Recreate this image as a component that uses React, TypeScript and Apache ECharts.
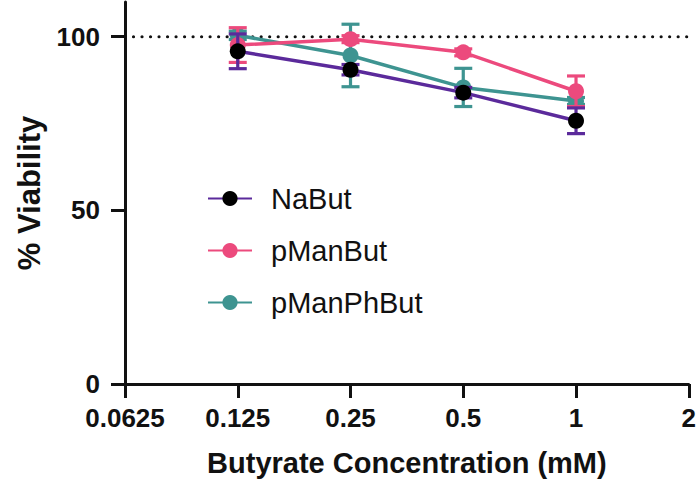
import React, { useEffect, useRef } from "react";
import * as echarts from "echarts";

const concentrations = [0.125, 0.25, 0.5, 1];
const xTickLabels = ["0.0625", "0.125", "0.25", "0.5", "1", "2"];
const yTickValues = [0, 50, 100];

const naButMean = [95.8, 90.5, 83.9, 75.8];
const naButErr = [5.0, 1.5, 1.5, 3.7];
const pManButMean = [97.6, 99.3, 95.5, 84.3];
const pManButErr = [5.0, 1.0, 1.0, 4.4];
const pManPhButMean = [100.4, 94.6, 85.4, 81.5];
const pManPhButErr = [1.2, 9.0, 5.5, 1.0];

const seriesNames = ["NaBut", "pManBut", "pManPhBut"];

const FONT = 'Arial, "Liberation Sans", Helvetica, sans-serif';

function errData(means: number[], errs: number[]) {
  return concentrations.map((c, i) => [c, means[i] - errs[i], means[i] + errs[i]]);
}

function errSeries(name: string, means: number[], errs: number[], color: string, z: number) {
  return {
    type: "custom",
    name: name + "-err",
    z,
    silent: true,
    data: errData(means, errs),
    renderItem: (params: any, api: any) => {
      const x = api.value(0);
      const lo = api.coord([x, api.value(1)]);
      const hi = api.coord([x, api.value(2)]);
      const w = 9;
      const style = { stroke: color, lineWidth: 3.2, fill: "none" };
      return {
        type: "group",
        children: [
          { type: "line", shape: { x1: lo[0], y1: lo[1], x2: hi[0], y2: hi[1] }, style },
          { type: "line", shape: { x1: lo[0] - w, y1: lo[1], x2: lo[0] + w, y2: lo[1] }, style },
          { type: "line", shape: { x1: hi[0] - w, y1: hi[1], x2: hi[0] + w, y2: hi[1] }, style },
        ],
      };
    },
  };
}

function lineSeries(name: string, means: number[], lineColor: string, markerColor: string, z: number) {
  return {
    type: "line",
    name,
    z,
    data: concentrations.map((c, i) => [c, means[i]]),
    symbol: "circle",
    symbolSize: 16,
    lineStyle: { color: lineColor, width: 3.5 },
    itemStyle: { color: markerColor, borderWidth: 0 },
    color: markerColor,
  };
}

export default function App() {
  const ref = useRef<HTMLDivElement>(null);
  useEffect(() => {
    if (!ref.current) return;
    const chart = echarts.init(ref.current, null, { renderer: "svg" });
    const purple = "#5B2A9B";
    const pink = "#EC4A7D";
    const teal = "#3E9491";
    chart.setOption({
      animation: false,
      grid: { left: 125, right: 7, top: 2, bottom: 102, containLabel: false },
      legend: {
        orient: "vertical",
        left: 202,
        top: 179,
        data: seriesNames,
        itemWidth: 44,
        itemHeight: 19,
        itemGap: 23,
        textStyle: { fontFamily: FONT, fontSize: 29, color: "#111", padding: [0, 0, 0, 14] },
      },
      xAxis: {
        type: "log",
        logBase: 2,
        min: 0.0625,
        max: 2,
        name: "Butyrate Concentration (mM)",
        nameLocation: "middle",
        nameGap: 64,
        nameTextStyle: { fontFamily: FONT, fontSize: 29, fontWeight: "bold", color: "#111" },
        axisLine: { lineStyle: { color: "#111", width: 3 } },
        axisTick: { show: true, length: 14, lineStyle: { color: "#111", width: 3 } },
        minorTick: { show: false },
        splitLine: { show: false },
        axisLabel: {
          margin: 21,
          fontFamily: FONT,
          fontSize: 26,
          fontWeight: "bold",
          color: "#111",
          formatter: (v: number) => {
            const idx = Math.round(Math.log2(v) + 4);
            return xTickLabels[idx] ?? String(v);
          },
        },
      },
      yAxis: {
        type: "value",
        min: 0,
        max: 110,
        name: "% Viability",
        nameLocation: "middle",
        nameGap: 80,
        nameTextStyle: { fontFamily: FONT, fontSize: 31, fontWeight: "bold", color: "#111" },
        axisLine: { show: true, lineStyle: { color: "#111", width: 3 } },
        axisTick: { show: true, length: 14, customValues: yTickValues, lineStyle: { color: "#111", width: 3 } },
        splitLine: { show: false },
        axisLabel: {
          customValues: yTickValues,
          margin: 25,
          fontFamily: FONT,
          fontSize: 26,
          fontWeight: "bold",
          color: "#111",
        },
      },
      series: [
        {
          type: "line",
          name: "ref",
          data: [[0.0625, 100], [2, 100]],
          symbol: "none",
          silent: true,
          z: 1,
          lineStyle: { color: "#111", width: 3.2, type: [0.01, 8.5], cap: "round" },
        },
        errSeries("pManPhBut", pManPhButMean, pManPhButErr, teal, 2),
        lineSeries("pManPhBut", pManPhButMean, teal, teal, 2),
        errSeries("pManBut", pManButMean, pManButErr, pink, 3),
        lineSeries("pManBut", pManButMean, pink, pink, 3),
        errSeries("NaBut", naButMean, naButErr, purple, 4),
        lineSeries("NaBut", naButMean, purple, "#000000", 4),
      ],
    });
    return () => chart.dispose();
  }, []);
  return (
    <div
      ref={ref}
      style={{ position: "fixed", left: 0, top: 0, width: 699, height: 486, background: "#fff" }}
    />
  );
}
